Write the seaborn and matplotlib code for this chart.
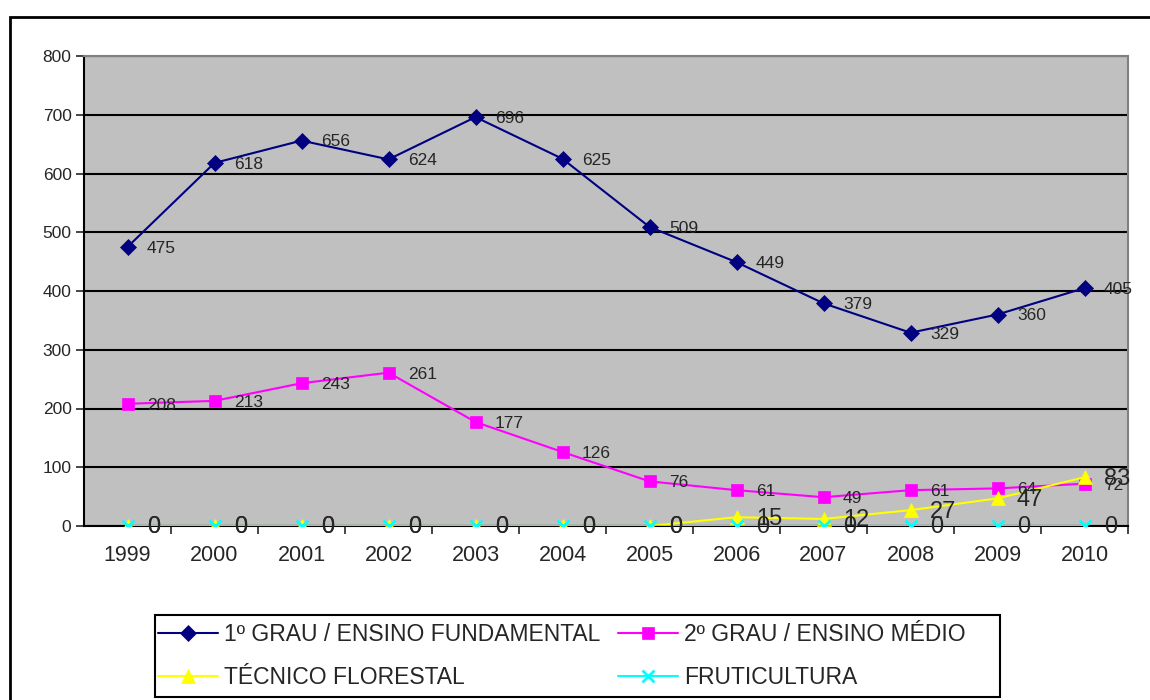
import matplotlib
matplotlib.use("Agg")
import matplotlib.pyplot as plt
import matplotlib.patches as patches
import seaborn as sns
import pandas as pd

years = ["1999", "2000", "2001", "2002", "2003", "2004", "2005", "2006", "2007", "2008", "2009", "2010"]
fundamental = [475, 618, 656, 624, 696, 625, 509, 449, 379, 329, 360, 405]
medio = [208, 213, 243, 261, 177, 126, 76, 61, 49, 61, 64, 72]
florestal = [0, 0, 0, 0, 0, 0, 0, 15, 12, 27, 47, 83]
fruticultura = [0, 0, 0, 0, 0, 0, 0, 0, 0, 0, 0, 0]

names = ["1º GRAU / ENSINO FUNDAMENTAL", "2º GRAU / ENSINO MÉDIO",
         "TÉCNICO FLORESTAL", "FRUTICULTURA"]
series = [fundamental, medio, florestal, fruticultura]
colors = ["#000080", "#FF00FF", "#FFFF00", "#00FFFF"]
markers = ["D", "s", "^", "x"]
msizes = [8, 9, 10, 8]
label_sizes = [12.5, 12.5, 17, 17]

sns.set_style("white")
plt.rcParams["font.family"] = ["Liberation Sans", "DejaVu Sans"]

fig = plt.figure(figsize=(11.5, 7), dpi=100)
ax = fig.add_axes([84 / 1150, 1 - 526 / 700, (1128 - 84) / 1150, (526 - 56) / 700])
ax.set_facecolor("#C0C0C0")

pos = list(range(len(years)))
for name, vals, c, m, ms in zip(names, series, colors, markers, msizes):
    df = pd.DataFrame({"x": pos, "y": vals})
    sns.lineplot(data=df, x="x", y="y", ax=ax, color=c, marker=m, markersize=ms,
                 markeredgecolor=c, markeredgewidth=2 if m == "x" else 0.5,
                 linewidth=1.5, label=name, zorder=3)

for vals, fs in zip(series, label_sizes):
    for x, v in zip(pos, vals):
        ax.annotate(str(v), (x, v), xytext=(14, -1), textcoords="offset points",
                    ha="left", va="center", fontsize=fs, zorder=4, clip_on=False)

ax.set_xlim(-0.5, len(years) - 0.5)
ax.set_ylim(0, 800)
ax.set_yticks(range(0, 801, 100))
ax.yaxis.grid(True, color="black", linewidth=1.5)
ax.set_axisbelow(True)
ax.tick_params(axis="y", labelsize=12.5, direction="out", length=6, width=1.2, left=True, pad=3)

ax.set_xticks([p + 0.5 for p in pos])
ax.set_xticklabels([])
ax.set_xticks(pos, minor=True)
ax.set_xticklabels(years, minor=True)
ax.tick_params(axis="x", which="major", direction="out", length=6, width=1.2, bottom=True)
ax.tick_params(axis="x", which="minor", length=0, labelsize=15.5, pad=14)
ax.set_xlabel("")
ax.set_ylabel("")

for s in ["left", "bottom"]:
    ax.spines[s].set_color("black")
    ax.spines[s].set_linewidth(1.5)
for s in ["top", "right"]:
    ax.spines[s].set_color("#808080")
    ax.spines[s].set_linewidth(1.5)

ax.get_legend().remove()
handles, labels = ax.get_legend_handles_labels()
order = [0, 2, 1, 3]
leg = fig.legend([handles[i] for i in order], [labels[i] for i in order],
                 ncol=2, loc="center left",
                 bbox_to_anchor=(158 / 1150, 3 / 700, 808 / 1150, 82 / 700),
                 mode="expand", fontsize=16.5, frameon=False,
                 handlelength=2.6, handletextpad=0.3, borderaxespad=0,
                 labelspacing=0.9, columnspacing=0.5, borderpad=0.0)

legend_box = patches.Rectangle((155 / 1150, 3 / 700), 845 / 1150, 82 / 700,
                               transform=fig.transFigure, fill=False,
                               edgecolor="black", linewidth=1.5)
fig.patches.append(legend_box)

border = patches.Rectangle((10 / 1150, -0.02), 1.1, (700 - 17) / 700 + 0.02,
                           transform=fig.transFigure, fill=False,
                           edgecolor="black", linewidth=2)
fig.patches.append(border)

fig.savefig("out.png", dpi=100)
